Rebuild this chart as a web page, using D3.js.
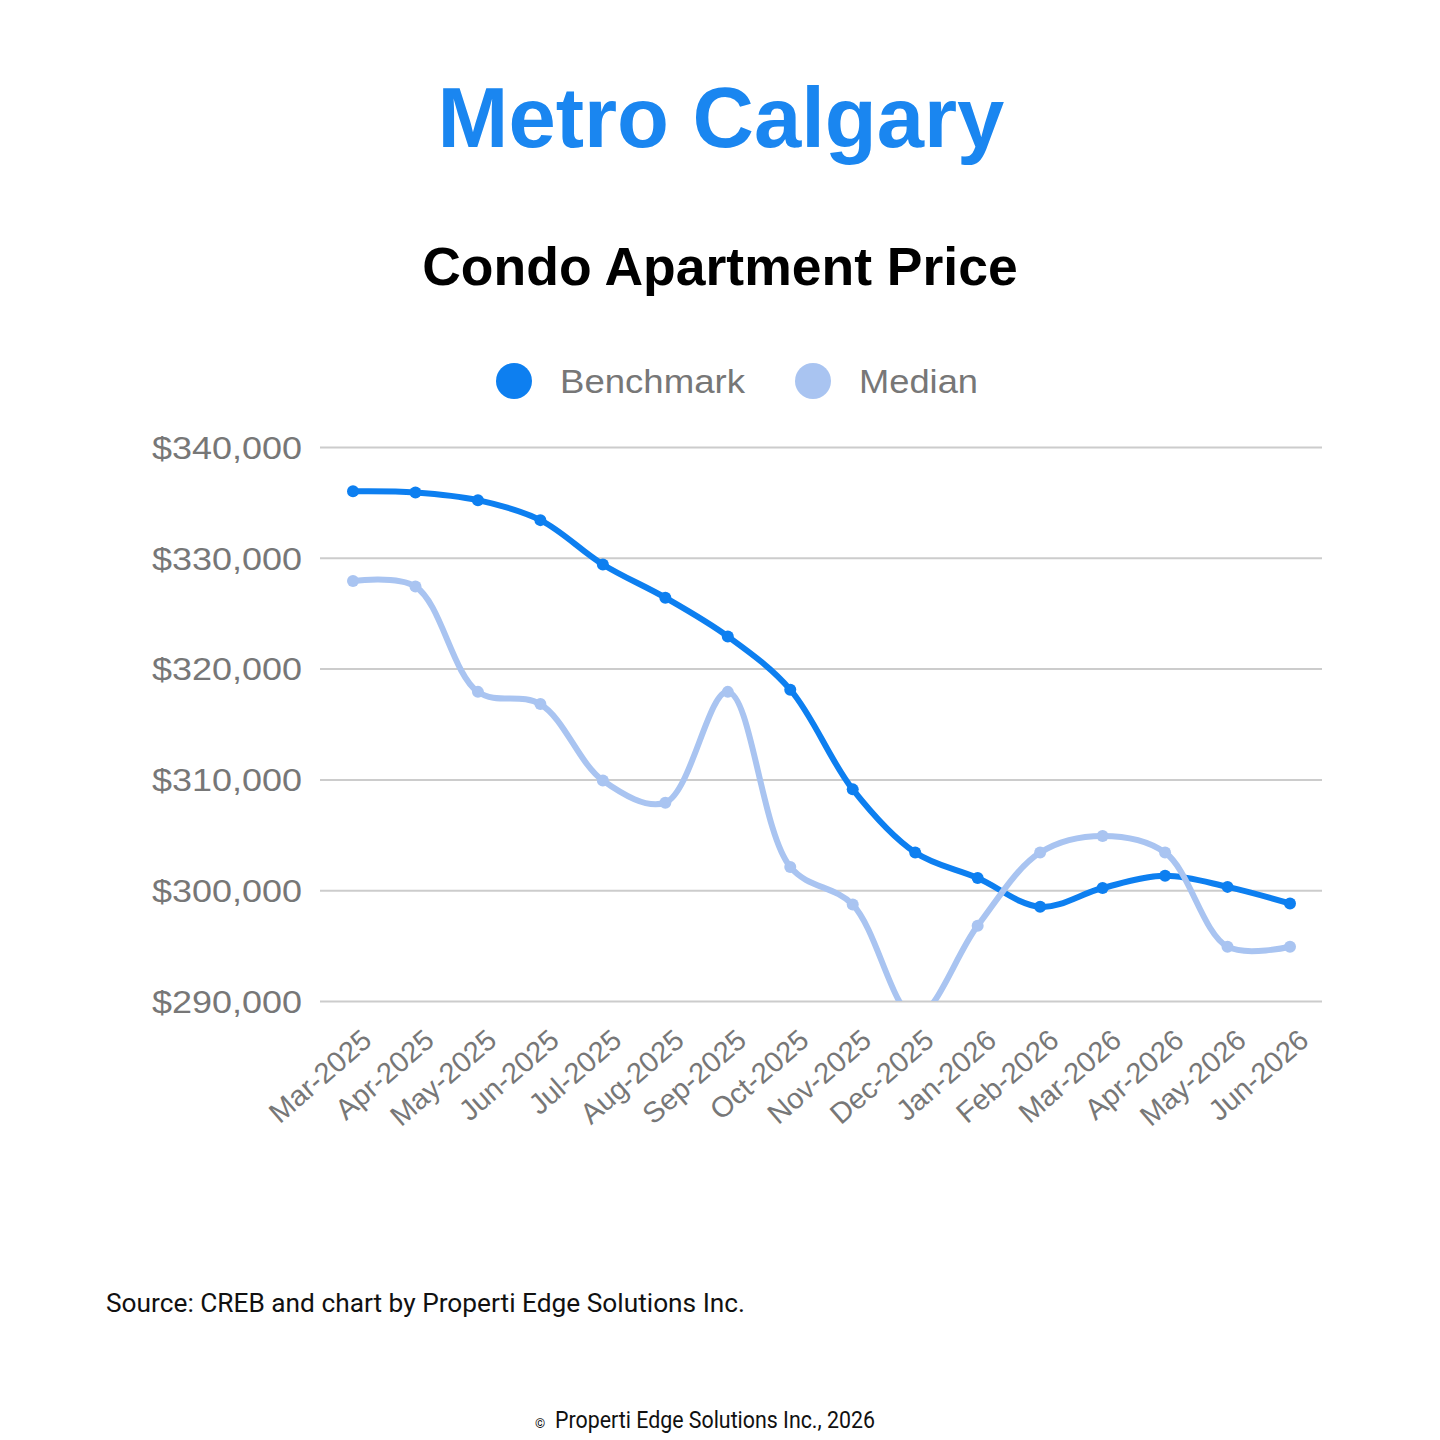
<!DOCTYPE html>
<html>
<head>
<meta charset="utf-8">
<script src="https://cdn.jsdelivr.net/npm/d3@7"></script>
<style>
  html, body { margin: 0; padding: 0; background: #fff; }
  svg { display: block; }
</style>
</head>
<body>
<svg id="chart" width="1440" height="1440"></svg>
<script>
const months = ["Mar-2025","Apr-2025","May-2025","Jun-2025","Jul-2025","Aug-2025","Sep-2025","Oct-2025","Nov-2025","Dec-2025","Jan-2026","Feb-2026","Mar-2026","Apr-2026","May-2026","Jun-2026"];
const benchmark = [336000, 335900, 335200, 333400, 329400, 326400, 322900, 318100, 309100, 303400, 301100, 298500, 300200, 301300, 300300, 298800];
const median = [327900, 327400, 317900, 316800, 309900, 307900, 317900, 302100, 298700, 288600, 296800, 303400, 304900, 303400, 294900, 294900];
const yTicks = [290000, 300000, 310000, 320000, 330000, 340000];
const seriesNames = ["Benchmark", "Median"];
const seriesColors = ["#0d7ff0", "#a9c4f1"];

const svg = d3.select("#chart");

// Titles
svg.append("text").attr("x", 721).attr("y", 147).attr("text-anchor", "middle")
  .attr("font-family", "Liberation Sans, Arial, sans-serif").attr("font-weight", "bold")
  .attr("font-size", 85).attr("fill", "#1a86f0").text("Metro Calgary");
svg.append("text").attr("x", 720).attr("y", 285).attr("text-anchor", "middle")
  .attr("font-family", "Liberation Sans, Arial, sans-serif").attr("font-weight", "bold")
  .attr("font-size", 53.5).attr("fill", "#000").text("Condo Apartment Price");

// Scales
const plotL = 320, plotR = 1322, plotT = 447, plotB = 1001;
const x = d3.scalePoint().domain(months).range([353, 1290]);
const y = d3.scaleLinear().domain([290000, 340000]).range([plotB, plotT]);

// Gridlines + y labels
const yAxis = d3.axisLeft(y).tickValues(yTicks).tickSize(-(plotR - plotL)).tickPadding(18)
  .tickFormat(d => "$" + d3.format(",")(d));
const gy = svg.append("g").attr("transform", `translate(${plotL},0)`).call(yAxis);
gy.select(".domain").remove();
gy.selectAll(".tick line").attr("stroke", "#cccccc").attr("stroke-width", 2);
gy.selectAll(".tick text").attr("font-family", "Liberation Sans, Arial, sans-serif")
  .attr("font-size", 32).attr("fill", "#777").attr("dy", "0.35em").attr("x", -18)
  .attr("textLength", 150).attr("lengthAdjust", "spacingAndGlyphs");

// X axis labels
const xAxis = d3.axisBottom(x).tickSize(0).tickPadding(0);
const gx = svg.append("g").attr("transform", `translate(0,${plotB})`).call(xAxis);
gx.select(".domain").remove();
gx.selectAll(".tick text")
  .attr("font-family", "Liberation Sans, Arial, sans-serif").attr("font-size", 29).attr("fill", "#777")
  .attr("text-anchor", "end").attr("dy", 0).attr("y", 0)
  .attr("transform", "translate(20,42) rotate(-41)");

// Clip
svg.append("defs").append("clipPath").attr("id", "plotclip")
  .append("rect").attr("x", plotL).attr("y", plotT - 20).attr("width", plotR - plotL).attr("height", plotB - plotT + 20);

const line = d3.line().x((d, i) => x(months[i])).y(d => y(d)).curve(d3.curveCatmullRom.alpha(0.5));
const plot = svg.append("g").attr("clip-path", "url(#plotclip)");

const seriesData = [benchmark, median];
[0, 1].forEach(si => {
  const data = seriesData[si];
  plot.append("path").datum(data).attr("d", line).attr("fill", "none")
    .attr("stroke", seriesColors[si]).attr("stroke-width", 6).attr("stroke-linejoin", "round");
  plot.selectAll(null).data(data).enter().append("circle")
    .attr("cx", (d, i) => x(months[i])).attr("cy", d => y(d)).attr("r", 6)
    .attr("fill", seriesColors[si]);
});

// Legend
const legendX = [514, 813];
const legendLen = [185, 119];
seriesNames.forEach((n, i) => {
  svg.append("circle").attr("cx", legendX[i]).attr("cy", 381).attr("r", 18).attr("fill", seriesColors[i]);
  svg.append("text").attr("x", legendX[i] + 46).attr("y", 393)
    .attr("font-family", "Liberation Sans, Arial, sans-serif").attr("font-size", 33).attr("fill", "#777")
    .attr("textLength", legendLen[i]).attr("lengthAdjust", "spacingAndGlyphs").text(n);
});

// Footer
svg.append("text").attr("x", 106).attr("y", 1312)
  .attr("font-family", "Roboto, sans-serif").attr("font-size", 26).attr("fill", "#111")
  .attr("textLength", 639).attr("lengthAdjust", "spacingAndGlyphs")
  .text("Source: CREB and chart by Properti Edge Solutions Inc.");
svg.append("text").attr("x", 540).attr("y", 1428).attr("text-anchor", "middle")
  .attr("font-family", "Roboto, sans-serif").attr("font-size", 13).attr("fill", "#111").text("©");
svg.append("text").attr("x", 555).attr("y", 1428)
  .attr("font-family", "Roboto, sans-serif").attr("font-size", 24).attr("fill", "#111")
  .attr("textLength", 320).attr("lengthAdjust", "spacingAndGlyphs")
  .text("Properti Edge Solutions Inc., 2026");
</script>
</body>
</html>
